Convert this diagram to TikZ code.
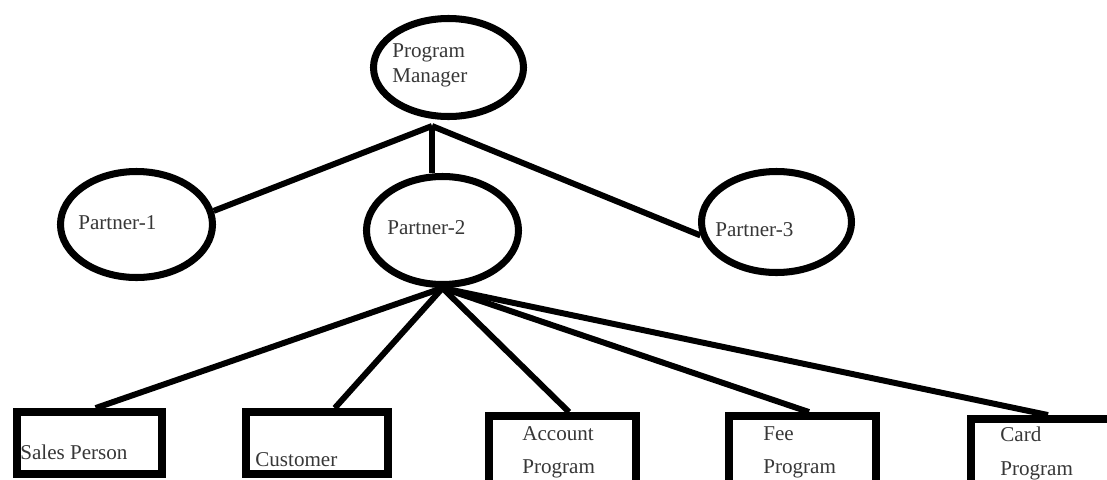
\documentclass[tikz,border=0pt]{standalone}
\usepackage{fontspec}
\setmainfont{Liberation Serif}
\usetikzlibrary{shapes.geometric}

\definecolor{labelgray}{RGB}{55,55,55}

\tikzset{
	oval/.style={ellipse, draw, line width=4pt, inner sep=0pt},
	box/.style={rectangle, draw, line width=4.5pt, inner sep=0pt},
	link/.style={line width=3.4pt},
	caption/.style={anchor=west, inner sep=0pt, text=labelgray, align=left, font=\fontsize{12}{14.2}\selectfont},
	boxcaption/.style={caption, font=\fontsize{12}{19}\selectfont}
}

\begin{document}
\begin{tikzpicture}

		\useasboundingbox (0,0) rectangle (22.14,-9.58);

		\node[oval, minimum width=3cm, minimum height=1.96cm] (manager) at (8.97,-1.35) {};
		\node[oval, minimum width=3.04cm, minimum height=2.12cm] (partnerA) at (2.73,-4.49) {};
		\node[oval, minimum width=3.04cm, minimum height=2.16cm] (partnerB) at (8.85,-4.61) {};
		\node[oval, minimum width=3cm, minimum height=2.02cm] (partnerC) at (15.53,-4.44) {};

		\node[box, minimum width=2.9cm, minimum height=1.24cm] (sales) at (1.79,-8.86) {};
		\node[box, minimum width=2.84cm, minimum height=1.24cm] (customer) at (6.34,-8.86) {};
		\node[box, minimum width=2.94cm, minimum height=1.48cm] (account) at (11.25,-9.06) {};
		\node[box, minimum width=2.94cm, minimum height=1.48cm] (fee) at (16.05,-9.06) {};
		\node[box, minimum width=3.08cm, minimum height=1.42cm] (card) at (20.96,-9.09) {};

		\node[caption] (managertext) at (7.84,-1.31) {Program\\Manager};
		\node[caption] (partnerAtext) at (1.56,-4.46) {Partner-1};
		\node[caption] (partnerBtext) at (7.74,-4.56) {Partner-2};
		\node[caption] (partnerCtext) at (14.3,-4.6) {Partner-3};

		\node[boxcaption] (salestext) at (0.4,-9.04) {Sales Person};
		\node[boxcaption] (customertext) at (5.1,-9.2) {Customer};
		\node[boxcaption] (accounttext) at (10.44,-9.05) {Account\\Program};
		\node[boxcaption] (feetext) at (15.26,-9.05) {Fee\\Program};
		\node[boxcaption] (cardtext) at (20.0,-9.07) {Card\\Program};

		\coordinate (managerfoot) at (8.64,-2.52);

		\draw[link] (managerfoot) -- (partnerA.10);
		\draw[link] (managerfoot) -- (managerfoot |- partnerB.north);
		\draw[link] (managerfoot) -- (partnerC.190);

		\draw[link] (partnerB.south) -- (sales.80);
		\draw[link] (partnerB.south) -- (customer.63);
		\draw[link] (partnerB.south) -- (account.81);
		\draw[link] (partnerB.south) -- (fee.81);
		\draw[link] (partnerB.south) -- (card.north);

	\end{tikzpicture}
\end{document}
